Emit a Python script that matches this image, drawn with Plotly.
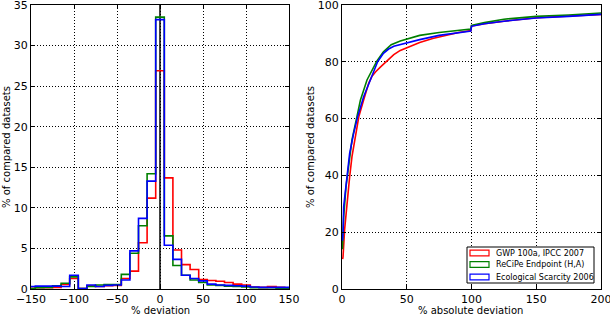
import plotly.graph_objects as go

# ---------------- data ----------------
bin_centers = [-150, -140, -130, -120, -110, -100, -90, -80, -70, -60, -50, -40, -30, -20, -10,
               0, 10, 20, 30, 40, 50, 60, 70, 80, 90, 100, 110, 120, 130, 140, 150]
bin_width = 10

hist_gwp = [0.1, 0.15, 0.15, 0.2, 0.55, 1.3, 0.05, 0.4, 0.3, 0.4, 0.45, 1.3, 2.2, 5.7, 11.2,
            26.9, 13.7, 4.8, 3.0, 2.4, 1.15, 1.05, 0.95, 0.8, 0.6, 0.5, 0.25, 0.2, 0.3, 0.2, 0.15]
hist_recipe = [0.05, 0.15, 0.2, 0.4, 0.7, 1.5, 0.05, 0.3, 0.5, 0.55, 0.55, 1.8, 4.4, 7.8, 14.2,
               33.5, 6.55, 2.9, 1.7, 1.1, 0.8, 0.5, 0.45, 0.35, 0.3, 0.25, 0.15, 0.15, 0.15, 0.1, 0.1]
hist_eco = [0.3, 0.35, 0.35, 0.35, 0.3, 1.7, 0.05, 0.5, 0.3, 0.45, 0.5, 1.1, 4.7, 8.7, 13.3,
            33.2, 5.4, 3.65, 1.7, 1.3, 1.0, 0.6, 0.5, 0.45, 0.4, 0.35, 0.25, 0.2, 0.2, 0.2, 0.2]

cdf_gwp_x = [0.5, 0.8, 2, 3.9, 5.9, 7.7, 11, 13, 16.7, 20.6, 23, 26, 30, 35, 40, 45, 50, 60, 70, 80,
             90, 99.5, 100, 110, 125, 150, 175, 200]
cdf_gwp_y = [10.5, 11.4, 20.8, 31.3, 39.5, 46.6, 54.8, 60.7, 66.5, 72.4, 74.8, 76.5, 78.3, 80.5,
             82.5, 84, 85, 86.8, 88.2, 89.3, 90.3, 91, 92.6, 93.4, 94.3, 95.5, 96.2, 96.7]

cdf_recipe_x = [0.3, 0.5, 1.3, 3.1, 5.1, 7.7, 11, 14.2, 19.3, 24, 27, 32, 38, 45, 50, 60, 75, 90,
                99.5, 100, 110, 125, 150, 175, 200]
cdf_recipe_y = [14, 16, 25.5, 36, 44.2, 52.5, 59.5, 66.5, 73.6, 77.5, 80.3, 83.5, 86, 87.3, 88,
                89.3, 90.3, 91, 91.5, 92.8, 93.8, 95, 96, 96.5, 97.2]

cdf_eco_x = [0.3, 0.8, 1.3, 2.6, 3.9, 5.9, 9, 12.1, 16.7, 21.9, 25, 27.5, 32, 36, 40, 50, 60, 75,
             90, 99.5, 100, 110, 125, 150, 175, 200]
cdf_eco_y = [17, 19.6, 29, 34.9, 40.7, 47.8, 54.8, 60.7, 67.7, 73.6, 77, 80, 83, 84.5, 85.5, 86.7,
             87.8, 89.3, 90.3, 90.8, 92.5, 93.4, 94.3, 95.4, 96, 96.7]

series_names = ["GWP 100a, IPCC 2007", "ReCiPe Endpoint (H,A)", "Ecological Scarcity 2006"]
series_colors = ["#ff0000", "#008000", "#0000ff"]

x_ticks_left = [-150, -100, -50, 0, 50, 100, 150]
y_ticks_left = [0, 5, 10, 15, 20, 25, 30, 35]
x_ticks_right = [0, 50, 100, 150, 200]
y_ticks_right = [0, 20, 40, 60, 80, 100]

W, H = 610, 316
FONT = "DejaVu Sans"


def step_outline(centers, values, width):
    xs = [centers[0] - width / 2.0]
    ys = [0.0]
    for c, v in zip(centers, values):
        xs.append(c - width / 2.0)
        ys.append(v)
    xs.append(centers[-1] + width / 2.0)
    ys.append(values[-1])
    xs.append(centers[-1] + width / 2.0)
    ys.append(0.0)
    return xs, ys


fig = go.Figure()

hists = [hist_gwp, hist_recipe, hist_eco]
for vals, name, col in zip(hists, series_names, series_colors):
    xs, ys = step_outline(bin_centers, vals, bin_width)
    fig.add_trace(go.Scatter(x=xs, y=ys, mode="lines", line=dict(color=col, width=1.6, shape="hv"),
                             name=name, showlegend=False, xaxis="x", yaxis="y"))

cdfs = [(cdf_gwp_x, cdf_gwp_y), (cdf_recipe_x, cdf_recipe_y), (cdf_eco_x, cdf_eco_y)]
for (cx, cy), name, col in zip(cdfs, series_names, series_colors):
    fig.add_trace(go.Scatter(x=cx, y=cy, mode="lines", line=dict(color=col, width=1.6),
                             name=name, showlegend=False, xaxis="x2", yaxis="y2"))


def px_x(p):
    return p / W


def px_y(p):
    return 1 - p / H


axis_common = dict(
    showline=True, linecolor="black", linewidth=1.2, mirror="ticks",
    ticks="inside", ticklen=4, tickwidth=1, tickcolor="black",
    showgrid=True, gridcolor="black", griddash="1px,2px", gridwidth=1,
    zeroline=False, automargin=False, ticklabeloverflow="allow",
    tickfont=dict(family=FONT, size=11, color="black"),
)

fig.update_layout(
    template="none",
    width=W, height=H,
    margin=dict(l=0, r=0, t=0, b=0, pad=0),
    paper_bgcolor="white", plot_bgcolor="white",
    showlegend=False,
    font=dict(family=FONT, color="black"),
    xaxis=dict(domain=[px_x(31), px_x(289)], range=[-150, 150], tickvals=x_ticks_left,
               anchor="y", **axis_common),
    yaxis=dict(domain=[px_y(289), px_y(5)], range=[0, 35], tickvals=y_ticks_left,
               anchor="x", **axis_common),
    xaxis2=dict(domain=[px_x(342), px_x(601)], range=[0, 200], tickvals=x_ticks_right,
                anchor="y2", **axis_common),
    yaxis2=dict(domain=[px_y(289), px_y(5)], range=[0, 100], tickvals=y_ticks_right,
                anchor="x2", **axis_common),
)

shapes = [
    dict(type="line", xref="x", yref="y domain", x0=0, x1=0, y0=0, y1=1,
         line=dict(color="black", width=1.5), layer="below"),
]

# manual legend box
shapes.append(dict(type="rect", xref="paper", yref="paper",
                   x0=px_x(467), x1=px_x(594), y0=px_y(283), y1=px_y(247),
                   line=dict(color="black", width=1), fillcolor="white", layer="above"))
annotations = []
row_y = [253, 264.5, 277]
for ry, name, col in zip(row_y, series_names, series_colors):
    shapes.append(dict(type="rect", xref="paper", yref="paper",
                       x0=px_x(470), x1=px_x(489), y0=px_y(ry + 2.8), y1=px_y(ry - 2.8),
                       line=dict(color=col, width=1.2), fillcolor="rgba(0,0,0,0)", layer="above"))
    annotations.append(dict(text=name, xref="paper", yref="paper", x=px_x(494), y=px_y(ry),
                            xanchor="left", yanchor="middle", showarrow=False,
                            font=dict(family=FONT, size=8, color="black")))

annotations += [
    dict(text="% deviation", xref="paper", yref="paper", x=px_x(160), y=px_y(310),
         xanchor="center", yanchor="middle", showarrow=False, font=dict(family=FONT, size=10)),
    dict(text="% absolute deviation", xref="paper", yref="paper", x=px_x(471), y=px_y(310),
         xanchor="center", yanchor="middle", showarrow=False, font=dict(family=FONT, size=10)),
    dict(text="% of compared datasets", xref="paper", yref="paper", x=px_x(6), y=px_y(147),
         xanchor="center", yanchor="middle", textangle=-90, showarrow=False,
         font=dict(family=FONT, size=10)),
    dict(text="% of compared datasets", xref="paper", yref="paper", x=px_x(310), y=px_y(147),
         xanchor="center", yanchor="middle", textangle=-90, showarrow=False,
         font=dict(family=FONT, size=10)),
]

fig.update_layout(shapes=shapes, annotations=annotations)
fig.write_html("out.html", config={"displayModeBar": False},
               post_script="document.body.style.margin='0px';document.body.style.padding='0px';")
